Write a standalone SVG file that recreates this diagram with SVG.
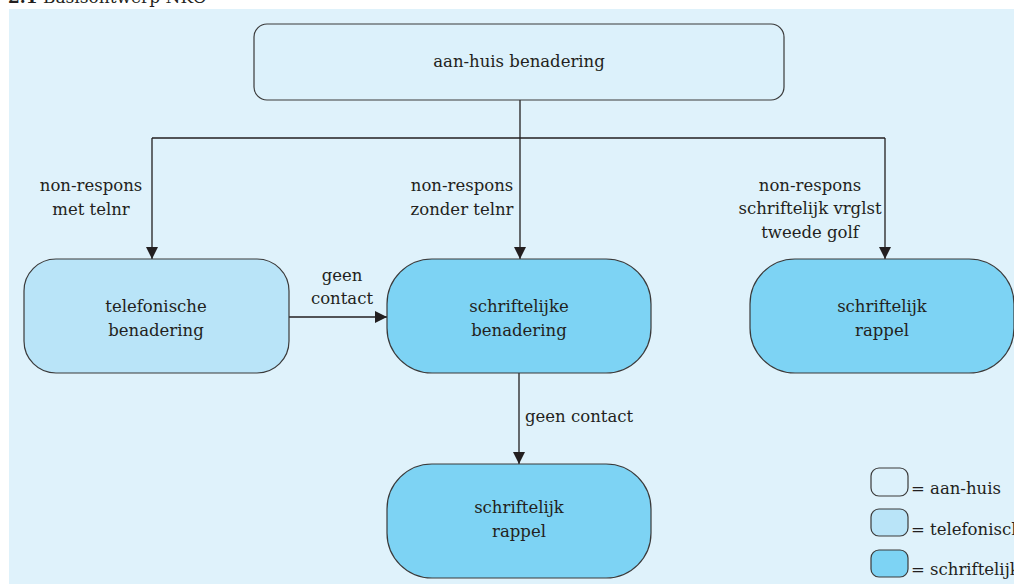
<svg xmlns="http://www.w3.org/2000/svg" width="1014" height="584" viewBox="0 0 1014 584">
  <defs>
    <marker id="arr" markerWidth="12" markerHeight="12" refX="12" refY="6" orient="auto" markerUnits="userSpaceOnUse">
      <path d="M0,0 L12,6 L0,12 Z" fill="#231f20"/>
    </marker>
    <style>
      text { font-family: "DejaVu Serif", "Liberation Serif", serif; font-size: 16.5px; fill: #231f20; }
      .c { text-anchor: middle; }
      .box { stroke: #3a3a3a; stroke-width: 1.2; }
      .aan { fill: #dcf1fb; }
      .tel { fill: #b9e4f8; }
      .sch { fill: #7dd3f4; }
      .ln { fill: none; stroke: #231f20; stroke-width: 1.3; }
    </style>
  </defs>
  <rect x="0" y="0" width="1014" height="584" fill="#ffffff"/>
  <text x="8" y="3" style="font-size:17px"><tspan font-weight="bold">2.1</tspan> Basisontwerp NKO</text>
  <rect x="9" y="9" width="1005" height="575" fill="#dff2fb"/>

  <g id="connectors">
    <path class="ln" d="M520,100 V138"/>
    <path class="ln" d="M152,138 H885"/>
    <path class="ln" d="M152,138 V259" marker-end="url(#arr)"/>
    <path class="ln" d="M520,138 V259" marker-end="url(#arr)"/>
    <path class="ln" d="M885,138 V259" marker-end="url(#arr)"/>
    <path class="ln" d="M289,317 H387" marker-end="url(#arr)"/>
    <path class="ln" d="M519,373 V464" marker-end="url(#arr)"/>
    <text class="c" x="91" y="191">non-respons</text>
    <text class="c" x="91" y="215">met telnr</text>
    <text class="c" x="462" y="191">non-respons</text>
    <text class="c" x="462" y="215">zonder telnr</text>
    <text class="c" x="810" y="191">non-respons</text>
    <text class="c" x="810" y="214">schriftelijk vrglst</text>
    <text class="c" x="810" y="238">tweede golf</text>
    <text class="c" x="342" y="281">geen</text>
    <text class="c" x="342" y="304">contact</text>
    <text x="525" y="422">geen contact</text>
  </g>

  <g id="aanhuis">
    <rect class="box aan" x="254" y="24" width="530" height="76" rx="13"/>
    <text class="c" x="519" y="67">aan-huis benadering</text>
  </g>
  <g id="telefonisch">
    <rect class="box tel" x="24" y="259" width="265" height="114" rx="32"/>
    <text class="c" x="156" y="312">telefonische</text>
    <text class="c" x="156" y="336">benadering</text>
  </g>
  <g id="schriftelijk">
    <rect class="box sch" x="387" y="259" width="264" height="114" rx="45"/>
    <text class="c" x="519" y="312">schriftelijke</text>
    <text class="c" x="519" y="336">benadering</text>
  </g>
  <g id="rappel1">
    <rect class="box sch" x="750" y="259" width="264" height="114" rx="45"/>
    <text class="c" x="882" y="312">schriftelijk</text>
    <text class="c" x="882" y="336">rappel</text>
  </g>
  <g id="rappel2">
    <rect class="box sch" x="387" y="464" width="264" height="114" rx="45"/>
    <text class="c" x="519" y="513">schriftelijk</text>
    <text class="c" x="519" y="537">rappel</text>
  </g>

  <g id="legend">
    <rect class="box aan" x="871" y="468" width="37" height="28" rx="8"/>
    <text x="911" y="494">= aan-huis</text>
    <rect class="box tel" x="871" y="509" width="37" height="27" rx="8"/>
    <text x="911" y="535">= telefonisch</text>
    <rect class="box sch" x="871" y="550" width="37" height="27" rx="8"/>
    <text x="911" y="575">= schriftelijk</text>
  </g>
</svg>
